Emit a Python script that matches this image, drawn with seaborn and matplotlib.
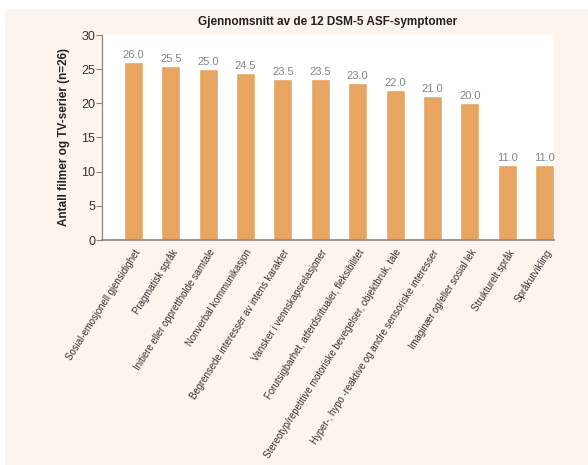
import matplotlib
matplotlib.use("Agg")
import matplotlib.pyplot as plt
import seaborn as sns
import pandas as pd
from matplotlib.patches import Rectangle

categories = [
    "Sosial-emosjonell gjensidighet",
    "Pragmatisk språk",
    "Initiere eller opprettholde samtale",
    "Nonverbal kommunikasjon",
    "Begrensede interesser av intens karakter",
    "Vansker i vennskapsrelasjoner",
    "Forutsigbarhet, atferdsritualer, fleksibilitet",
    "Stereotyp/repetitive motoriske bevegelser, objektbruk, tale",
    "Hyper-, hypo -reaktive og andre sensoriske interesser",
    "Imaginær og/eller sosial lek",
    "Strukturelt språk",
    "Språkutvikling",
]
values = [26.0, 25.5, 25.0, 24.5, 23.5, 23.5, 23.0, 22.0, 21.0, 20.0, 11.0, 11.0]
yticks = [0, 5, 10, 15, 20, 25, 30]

title = "Gjennomsnitt av de 12 DSM-5 ASF-symptomer"
ylabel = "Antall filmer og TV-serier (n=26)"

sns.set_style("white")
plt.rcParams["font.family"] = ["Liberation Sans", "DejaVu Sans"]

cream = "#FDF4EE"
bar_color = "#E8A461"

fig = plt.figure(figsize=(5.88, 4.65), dpi=100, facecolor="white")
fig.patches.append(Rectangle((5 / 588, 0), 1, 1 - 9 / 465, transform=fig.transFigure,
                             facecolor=cream, edgecolor="none", zorder=-10))
ax = fig.add_axes([102 / 588, 1 - 240 / 465, (554 - 102) / 588, (240 - 35) / 465])
ax.set_facecolor("white")

df = pd.DataFrame({"cat": categories, "val": values})
sns.barplot(data=df, x="cat", y="val", color=bar_color, saturation=1, width=0.51, ax=ax)

for i, v in enumerate(values):
    ax.text(i, v + 0.3, f"{v:.1f}", ha="center", va="bottom", fontsize=8, color="#858585")

ax.set_xlim(-0.84, 11.25)
ax.set_ylim(0, 30)
ax.set_yticks(yticks)
ax.tick_params(axis="y", left=True, length=4, width=0.8, color="#888888", labelsize=9,
               labelcolor="#333333", pad=1)
ax.tick_params(axis="x", bottom=False, pad=2)
ax.set_xticks(range(len(categories)))
ax.set_xticklabels(categories, rotation=57.5, ha="right", rotation_mode="anchor",
                   fontsize=6.9, color="#333333")
ax.set_xlabel("")
ax.set_ylabel(ylabel, fontsize=8.5, fontweight="bold", color="#222222", labelpad=8)
for s in ["top", "right"]:
    ax.spines[s].set_visible(False)
ax.spines["left"].set_color("#888888")
ax.spines["bottom"].set_color("#888888")
ax.spines["left"].set_linewidth(0.9)
ax.spines["bottom"].set_linewidth(1.2)

fig.text(328 / 588, 1 - 22 / 465, title, ha="center", va="center", fontsize=8.5,
         fontweight="bold", color="#222222")

fig.savefig("out.png", dpi=100, facecolor=fig.get_facecolor())
